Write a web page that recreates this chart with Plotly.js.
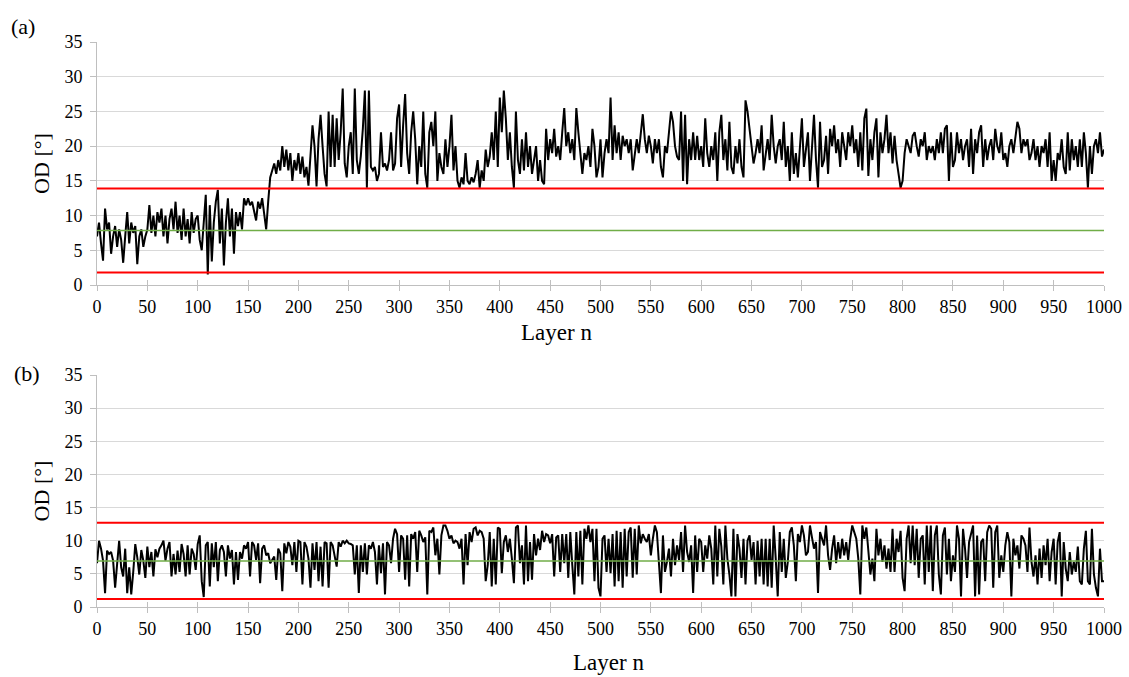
<!DOCTYPE html>
<html><head><meta charset="utf-8">
<script src="https://cdn.plot.ly/plotly-3.0.1.min.js"></script>
<style>html,body{margin:0;padding:0;background:#fff}#chart{width:1129px;height:677px}</style>
</head><body><div id="chart"></div>
<script>
// Layer spacing of the sampled points
const layerStep = 2;

// (a) OD per layer, sampled every 2 layers (0..1000)
const odA = [
7,9,6,3.5,11,8,9,4.5,7,8.5,5.5,8,6.5,3.2,7,10.5,6,9,7.5,8.5,3,7,8,5.5,7,
8,11.5,7.5,10,7,10.5,9,11,7,10,6,9.5,11,8,12,7.5,10,6.5,11,7,9.5,6,10.5,7.5,9.5,
10,6.5,5,9,13,1.5,11.5,3.4,9,12,13.7,6,11,2.8,9,12.5,7,11,4.5,10.5,8.5,10.5,8,12.5,11.5,
12.5,11.5,12,10.5,9.3,12,11,12.5,10.5,8,12,15.5,16.5,17.5,16,18,16.5,20,17,19.5,16.5,19,15,18,16.5,
19,16,18.5,15.5,17,14.3,19,23,20,14.2,21,24.5,20,16,14.2,25,17,24.5,17,24,18,22,28.3,17.5,15.5,
20,22,16,28.3,18,16,18.6,22.5,28,14,28,17,16.5,17,15,16,22,17,17.5,16.5,18,22,16.5,17.5,24,
26,17,23,27.5,19,16,22,25,21,14.5,20,17,25,16,14,22,23.5,20,25,15,19,17,16,21,17,
20,24.5,16.5,20,15,14,15.5,14.5,19,15,14.5,15.5,14.8,16,18,14,16.5,15,19.5,17,18.5,22,18,25,17,
27,22,28,24,18,22,17,14,25,18,16,21,16.5,22,17,20,16,18,20,15,18,15,14.5,22.5,18,
21,19,22.5,18.5,20,18,22,25.5,20,22,19,21,18,25.5,22,19,16,19,18,20,17,22.5,20,15.5,17,
21,15.5,19,21,19,27,18,23,19,22,18,21.5,20,21,19,21,16.5,19,21,19,21.5,24.6,21,19,21.5,
20,17.5,21,19,21,17,15.5,20,19,22,25,23.5,20,18.5,18,25,15,24.5,14.5,21,18,22,18,21.5,18,
20,17,24,19,17,20,18,22,15,22,24.5,18,21,16.5,23.5,17,16,20,17.5,21,17,15.5,26.6,25,22.5,
20,17.5,19,21,19,23,16.5,19,21,18,24.5,20,17.5,20,21,18,23.5,17,20,15,22,16,19,15.5,20,
24,17,20,22,15,20,24.5,18,14,23.5,17,18,21.5,16,22.5,20,23,19,21,17,22,20,18,22,20,
23,19,21,17,22,16.5,24,25.4,15.7,21,18,22,24,15.5,22,19,21,24.5,19,22,17.5,21.5,18,16,14,
15,19,21,20,19,21.5,22,20,18.5,21,20,22,18,20,19,20,18,21,19,22,19,22.5,23,15,22,
17,18,22,19,21,18,20,21,17,22.5,16,21,19,22,23,17,21,18,20,21,18,22.5,20,19,22,
18,19,17,20,21,19,21,23.5,22.5,19,21,20,21,18,19,21,18,20,17,20,19,21,17,22,15,
18,15,19,18,21,17,16,22,16.5,21,18,20,17,21,17,22,19,14,20,16,20,21,19,22,18.5,19.5
];

// (b) OD per layer, sampled every 2 layers (0..1000)
const odB = [
6.6,10,8.8,7,2.1,8.5,8,8.3,7,2.9,6.5,10,6,4.6,8.8,2.1,6,1.9,5.3,9.5,7.5,4.9,8.6,7,4.4,
9.1,6,8.3,4.6,8.7,7.5,8.8,9.3,10,7,8.8,9.8,4.6,8,4.9,8.5,5.3,9.5,8,4.6,9.3,4.9,8.8,8,5.6,
9.5,10.8,3.9,1.5,9.3,9.8,3.1,9.6,6,9.8,3.9,8.6,9.3,8.3,4.6,9.3,7.3,8.6,3.4,8.3,4.1,8.3,7.3,9.3,8.8,
9.8,4.6,9.8,9.3,7.1,9.6,3.6,8.8,9.3,7.8,8.1,6.6,7.1,7.6,4.1,8.8,8.1,2.4,9.6,8.1,9.8,9.1,6.3,9.8,5.3,
10,9.8,3.4,9.8,9.1,7.3,2.9,9.6,5.6,9.8,3.9,9.1,3.1,9.8,9.6,2.9,9.8,9.3,7.8,6.1,9.8,9.1,10,9.6,10,
9.6,9.5,9.3,4.9,9.3,2.1,9.3,5.3,9.6,4.9,9.3,8.8,9.8,8.3,3.4,9.3,5.1,9.6,1.9,9.8,9.3,6.6,10.3,11.8,11,
5.3,10.8,10.3,4.1,10.8,3.1,11,10.3,11.3,5.3,11.5,10.8,9.8,10.5,1.9,11.5,11.3,12,7.8,10.3,4.9,10.8,12.3,12.3,11.5,
10.3,10.8,9.6,10,9.8,8.8,10.3,3.4,11,6.3,11.3,9.8,11.8,12,10.8,11.5,11.3,10.3,3.9,6.3,11.3,3.1,10.3,3.4,12,
11.8,5.1,9.8,10.8,8.3,10.3,7.3,3.6,12,12.3,6.6,9.3,3.4,12.3,3.9,9.8,4.1,11,7.8,10.3,8.6,11.5,9.8,11,10.8,
9.6,11,4.6,10.5,10.8,5.3,11,6.6,11,4.4,11.3,6.3,1.9,11.3,4.6,11.5,3.4,11.8,10.3,12.3,9.8,11.8,3.9,11.8,2.9,
1.6,10.3,10.8,5.3,10.3,5.1,11,3.1,11.5,3.9,11.3,2.9,11.8,4.6,11.3,12,4.4,11.8,4.9,12.3,9.6,11,10.3,9.8,11,
7.8,10.3,12.3,11.3,6.8,2.1,10.8,5.3,6.8,8.8,4.6,10.3,6.3,9.3,7.1,11.3,5.3,12.3,8.3,6.8,9.3,2.1,10.8,5.3,10.3,
9.8,5.3,9.3,7.3,10.8,8.8,3.4,12.3,4.6,11.8,9.1,3.4,12.3,7.3,4.9,1.6,11.8,1.6,11,8.8,4.4,10.3,3.4,10,10.8,
7.1,9.8,3.4,10,4.6,10.3,3.4,10.3,3.1,10.3,2.9,12.3,7.3,1.6,11.3,5.3,10.3,4.4,6.8,11.3,12,9.3,3.9,11,9.8,
12.3,10.8,7.8,8.3,12.3,10.5,8.8,9.8,2.1,11.3,10.3,9.3,12.3,7.8,5.6,8.8,10.8,6.6,9.8,7.3,10.3,7.8,9.8,7.1,10.3,
12.3,11.3,10.3,7.3,1.9,12.3,10.3,12,8.8,4.9,7.3,3.9,11.8,7.8,10.3,6.8,9.3,5.8,8.8,5.3,11.8,5.3,10.3,8.3,11.5,
4.4,2.4,10.3,12.3,6.6,12.3,6.3,11.8,4.4,10.3,10.8,3.4,12.3,5.3,12.3,2.4,10.8,12.3,4.9,1.9,10.8,12,4.9,10.3,3.9,
7.8,5.3,12.3,10.3,1.6,11.8,8.8,4.4,9.8,11.3,12.3,1.6,10.8,1.9,9.8,10.3,3.9,11.3,12.3,11.8,2.9,11.3,12.3,4.4,7.8,
5.3,9.3,11.3,9.8,1.6,10.3,7.8,9.3,5.8,10.8,10.3,9.3,5.3,12,6.8,4.6,7.8,3.4,8.8,4.4,9.3,6.3,10.3,3.9,8.3,
10.3,3.4,9.8,11.3,1.6,9.8,5.8,3.9,8.3,4.9,6.8,5.3,9.1,3.9,3.4,8.8,11.5,3.9,3.4,11.8,4.9,2.9,1.6,8.8,3.9,3.9
];

// Control limits: [upper, mean, lower]
const refLinesA = [13.9, 7.85, 1.8];
const refLinesB = [12.7, 6.95, 1.2];
const refColors = ['#ff0000', '#70ad47', '#ff0000'];

const xTickVals = [0,50,100,150,200,250,300,350,400,450,500,550,600,650,700,750,800,850,900,950,1000];
const yTickVals = [0,5,10,15,20,25,30,35];
const panelLabels = ['(a)', '(b)'];
const xTitle = 'Layer n';
const yTitle = 'OD [°]';

const layers = odA.map((_, i) => i * layerStep);
const layersB = odB.map((_, i) => i * layerStep);

const FONT = '"Liberation Serif", "Times New Roman", serif';
const traces = [];
traces.push({x: layers, y: odA, type: 'scatter', mode: 'lines', line: {color: '#000', width: 2}, xaxis: 'x', yaxis: 'y', hoverinfo: 'skip'});
traces.push({x: layersB, y: odB, type: 'scatter', mode: 'lines', line: {color: '#000', width: 2}, xaxis: 'x2', yaxis: 'y2', hoverinfo: 'skip'});
const xEndsA = [layers[0], layers[layers.length - 1]];
const xEndsB = [layersB[0], layersB[layersB.length - 1]];
refLinesA.forEach((v, k) => traces.push({x: xEndsA, y: [v, v], type: 'scatter', mode: 'lines', line: {color: refColors[k], width: k === 1 ? 1.5 : 2}, xaxis: 'x', yaxis: 'y', hoverinfo: 'skip'}));
refLinesB.forEach((v, k) => traces.push({x: xEndsB, y: [v, v], type: 'scatter', mode: 'lines', line: {color: refColors[k], width: k === 1 ? 1.5 : 2}, xaxis: 'x2', yaxis: 'y2', hoverinfo: 'skip'}));

function xAxis(anchor) {
  return {
    anchor: anchor, domain: [0, 1], range: [0, 1000], tickmode: 'array', tickvals: xTickVals,
    ticks: 'outside', ticklen: 5, tickwidth: 1, tickcolor: '#bfbfbf',
    showline: true, linecolor: '#bfbfbf', linewidth: 1, showgrid: false, zeroline: false,
    tickfont: {family: FONT, size: 18, color: '#000'},
    automargin: false, fixedrange: true
  };
}
function xInner(over, anchor) {
  return {overlaying: over, anchor: anchor, range: [0, 1000], tickmode: 'array', tickvals: xTickVals,
    ticks: 'inside', ticklen: 5, tickwidth: 1, tickcolor: '#bfbfbf', showticklabels: false,
    showline: false, showgrid: false, zeroline: false, automargin: false};
}
function yAxis(anchor, domain) {
  return {
    anchor: anchor, domain: domain, range: [0, 35], tickmode: 'array', tickvals: yTickVals,
    ticks: 'outside', ticklen: 6, tickwidth: 1, tickcolor: '#bfbfbf',
    showline: true, linecolor: '#bfbfbf', linewidth: 1,
    showgrid: true, gridcolor: '#d9d9d9', gridwidth: 1, zeroline: false,
    tickfont: {family: FONT, size: 18, color: '#000'}, ticklabelstandoff: 4,
    title: {text: yTitle, font: {family: FONT, size: 22, color: '#000'}, standoff: 8},
    automargin: false, fixedrange: true
  };
}
function label(text, x, y, size) {
  return {text: text, xref: 'paper', yref: 'paper', x: x, y: y, showarrow: false,
    xanchor: 'center', yanchor: 'middle', font: {family: FONT, size: size, color: '#000'}};
}

const layout = {
  width: 1129, height: 677,
  margin: {l: 97, r: 25, t: 42, b: 70},
  paper_bgcolor: '#fff', plot_bgcolor: '#fff',
  showlegend: false,
  font: {family: FONT, color: '#000'},
  xaxis: xAxis('y'),
  xaxis2: xAxis('y2'),
  xaxis3: xInner('x', 'y'),
  xaxis4: xInner('x2', 'y2'),
  yaxis: yAxis('x', [0.5699, 1]),
  yaxis2: yAxis('x2', [0, 0.4106]),
  annotations: [
    label(panelLabels[0], -0.0735, 1.0283, 22),
    label(panelLabels[1], -0.0695, 0.4124, 22),
    label(xTitle, 0.4568, 0.485, 23),
    label(xTitle, 0.5084, -0.0991, 23)
  ]
};
// empty traces to activate the inner tick axes
traces.push({x: [], y: [], xaxis: 'x3', yaxis: 'y', type: 'scatter', hoverinfo: 'skip'});
traces.push({x: [], y: [], xaxis: 'x4', yaxis: 'y2', type: 'scatter', hoverinfo: 'skip'});

Plotly.newPlot('chart', traces, layout, {staticPlot: true, displayModeBar: false});
</script>
</body></html>
